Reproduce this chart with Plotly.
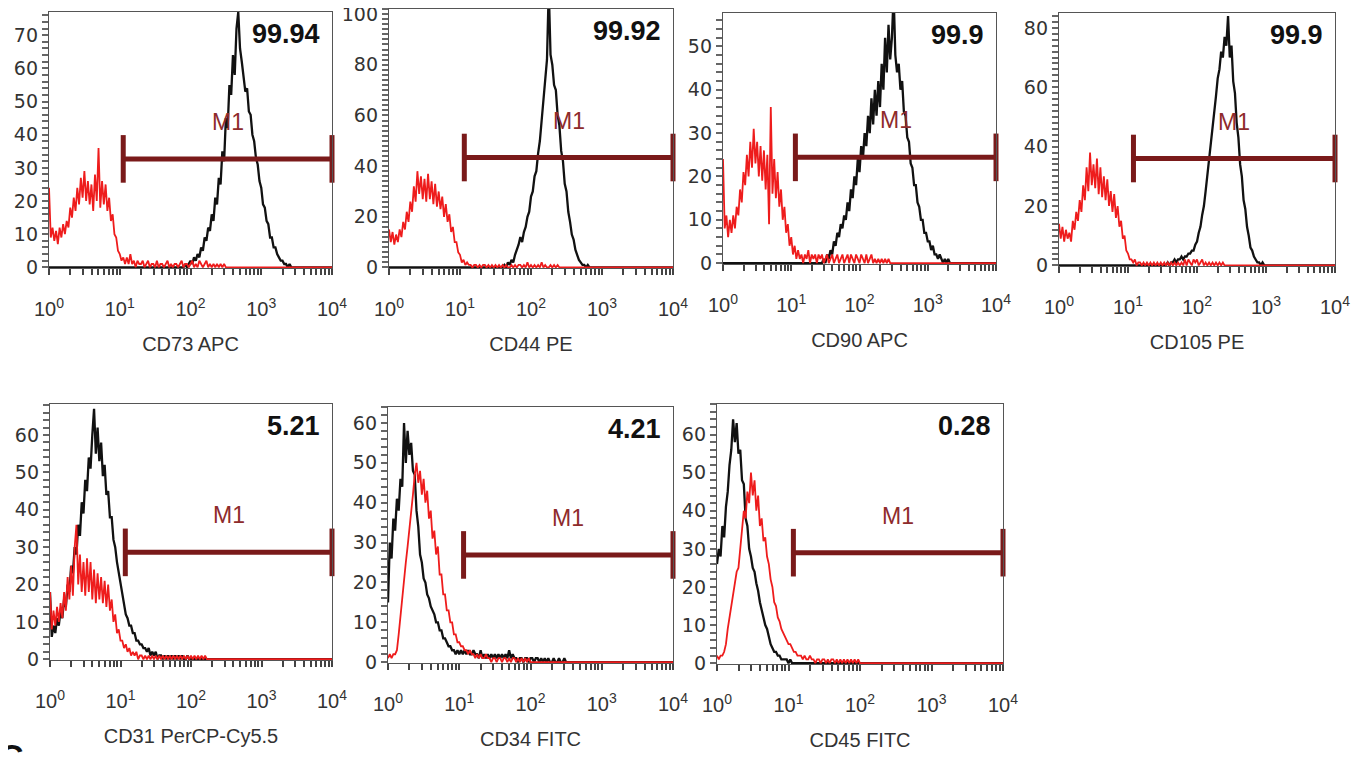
import math
import plotly.graph_objects as go

# ---------------- data ----------------
STEP = 0.025  # spacing of histogram channels in log10 units

PANEL_TITLES = ["CD73 APC", "CD44 PE", "CD90 APC", "CD105 PE",
                "CD31 PerCP-Cy5.5", "CD34 FITC", "CD45 FITC"]
PERCENT_M1 = ["99.94", "99.92", "99.9", "99.9", "5.21", "4.21", "0.28"]
Y_MAX = [77, 102, 57.7, 85, 68.3, 64, 68]
Y_DTICK = [10, 20, 10, 20, 10, 10, 10]
GATE_START = [11.2, 11.5, 11.5, 12.0, 11.7, 11.5, 11.7]
GATE_END = 10000
GATE_LEVEL = [32.7, 43.4, 24.4, 36.0, 28.6, 26.9, 29.0]

X_DECADES = [1, 10, 100, 1000, 10000]
X_DECADE_TEXT = ["10<sup>0</sup>", "10<sup>1</sup>", "10<sup>2</sup>", "10<sup>3</sup>", "10<sup>4</sup>"]

# CD73 APC
cd73_black_start = 1.9
cd73_black = [0, 1, 0, 1, 2, 1, 3, 2, 4, 3, 6, 5, 9, 8, 12, 11, 16, 14, 21, 19, 27, 25, 35, 32, 45, 42,
              55, 52, 64, 58, 72, 77, 66, 62, 58, 53, 54, 47, 46, 40, 38, 33, 31, 26, 24, 19, 18, 14, 13,
              9, 9, 6, 6, 4, 3, 2, 2, 1, 1, 0, 1, 0]
cd73_red_start = 0.0
cd73_red = [24, 9, 12, 8, 11, 7, 12, 9, 13, 10, 14, 12, 18, 15, 21, 17, 24, 19, 27, 21, 29, 20, 26, 19,
            25, 17, 28, 20, 36, 18, 26, 19, 25, 17, 21, 14, 16, 10, 9, 5, 4, 2, 3, 1, 3, 1, 4, 1, 2, 0,
            2, 1, 1, 2, 0, 1, 2, 0, 1, 1, 0, 2, 0, 1, 1, 0, 1, 2, 0, 1, 0, 1, 1, 0, 1, 2, 0, 1, 1, 0,
            1, 2, 0, 1, 0, 2, 1, 0, 1, 2, 0, 1, 0, 1, 0, 1, 0, 1, 0, 1, 0]

# CD44 PE
cd44_black_start = 1.6
cd44_black = [0, 1, 0, 2, 1, 3, 2, 5, 7, 9, 12, 10, 14, 16, 20, 22, 28, 30, 36, 38, 45, 50, 58, 66, 76,
              82, 110, 84, 80, 72, 70, 60, 56, 46, 42, 33, 30, 22, 18, 13, 11, 7, 5, 3, 2, 1, 1, 0, 1,
              0, 0]
cd44_red_start = 0.0
cd44_red = [15, 10, 14, 9, 13, 10, 15, 12, 18, 15, 22, 18, 26, 22, 32, 26, 38, 29, 36, 27, 35, 26, 37,
            27, 34, 25, 33, 24, 30, 23, 28, 20, 25, 18, 21, 14, 16, 10, 10, 6, 5, 2, 3, 1, 2, 1, 1, 0,
            1, 1, 0, 1, 0, 1, 1, 0, 1, 0, 1, 0, 1, 0, 1, 0, 1, 0, 1, 0, 0, 1, 0, 1, 0, 1, 1, 0, 1, 0,
            2, 0, 1, 0, 1, 0, 1, 0, 2, 0, 1, 0, 0, 1, 0, 1, 0, 1, 0]

# CD90 APC
cd90_black_start = 1.45
cd90_black = [0, 1, 0, 2, 1, 3, 2, 5, 4, 7, 6, 9, 8, 11, 10, 14, 12, 17, 15, 20, 18, 24, 21, 27, 24, 30,
              27, 34, 30, 38, 32, 40, 34, 42, 36, 46, 40, 52, 44, 55, 47, 52, 62, 48, 44, 46, 40, 42,
              35, 34, 29, 28, 23, 22, 18, 18, 14, 13, 10, 10, 7, 7, 5, 5, 3, 4, 2, 2, 1, 2, 1, 0, 1, 0,
              1, 0, 0]
cd90_red_start = 0.0
cd90_red = [24, 8, 11, 6, 10, 7, 11, 8, 13, 11, 17, 14, 21, 18, 25, 20, 28, 22, 31, 23, 28, 20, 27, 19,
            26, 17, 25, 9, 36, 16, 24, 15, 21, 13, 17, 10, 13, 7, 9, 4, 6, 2, 4, 1, 3, 1, 2, 0, 2, 1, 3,
            0, 2, 1, 2, 0, 2, 1, 2, 0, 1, 2, 0, 1, 2, 0, 1, 2, 0, 1, 2, 0, 1, 2, 0, 2, 1, 0, 2, 1, 0, 2,
            1, 0, 2, 0, 1, 2, 0, 1, 0, 1, 0, 1, 0, 1, 0, 1, 0]

# CD105 PE
cd105_black_start = 1.55
cd105_black = [0, 1, 0, 1, 1, 2, 1, 2, 2, 3, 2, 3, 3, 4, 4, 5, 5, 7, 8, 11, 13, 17, 20, 25, 30, 35, 40,
               46, 52, 57, 63, 66, 72, 70, 77, 74, 84, 70, 74, 62, 58, 48, 43, 34, 30, 22, 19, 13, 10,
               6, 5, 3, 2, 1, 1, 0, 1, 0, 0]
cd105_red_start = 0.0
cd105_red = [14, 9, 13, 8, 12, 9, 11, 8, 15, 12, 18, 15, 22, 18, 27, 22, 33, 25, 38, 27, 34, 26, 36, 24,
             33, 23, 30, 22, 29, 20, 25, 18, 24, 16, 20, 13, 15, 9, 10, 5, 4, 2, 2, 1, 2, 0, 1, 1, 0,
             1, 0, 1, 0, 1, 0, 1, 0, 1, 0, 1, 0, 1, 0, 1, 0, 1, 0, 1, 0, 1, 0, 1, 0, 2, 0, 2, 1, 0, 2,
             1, 2, 0, 1, 2, 0, 1, 0, 1, 0, 1, 0, 1, 0, 1, 0, 1, 0]

# CD31 PerCP-Cy5.5
cd31_black_start = 0.0
cd31_black = [18, 6, 9, 7, 11, 9, 13, 11, 16, 14, 20, 18, 25, 23, 30, 28, 36, 33, 42, 39, 48, 45, 54,
              51, 60, 67, 55, 62, 53, 58, 49, 52, 44, 45, 38, 38, 32, 30, 26, 23, 20, 17, 15, 12, 11,
              9, 9, 7, 7, 5, 5, 4, 4, 3, 3, 2, 3, 1, 2, 1, 2, 0, 1, 1, 0, 1, 0, 1, 0, 1, 0, 1, 0, 1, 0,
              1, 0, 0, 1, 0, 0]
cd31_red_start = 0.0
cd31_red = [18, 8, 13, 9, 14, 10, 15, 11, 18, 13, 22, 16, 25, 17, 30, 36, 20, 28, 18, 26, 17, 27, 18,
            26, 16, 24, 15, 23, 16, 22, 15, 21, 14, 20, 13, 16, 10, 12, 7, 8, 5, 5, 3, 4, 2, 3, 1, 2,
            1, 2, 0, 1, 1, 0, 1, 0, 1, 0, 1, 0, 1, 0, 1, 0, 1, 0, 1, 0, 1, 0, 1, 0, 1, 0, 1, 0, 1, 0,
            1, 0, 1, 0, 1, 0, 1, 0, 1, 0, 1, 0, 0]

# CD34 FITC
cd34_black_start = 0.0
cd34_black = [15, 30, 26, 36, 33, 41, 38, 46, 44, 60, 50, 58, 52, 55, 48, 47, 38, 34, 27, 25, 21, 20,
              17, 16, 14, 13, 12, 10, 10, 8, 8, 6, 6, 5, 4, 4, 3, 3, 2, 3, 2, 3, 2, 3, 2, 3, 2, 2, 3,
              2, 2, 1, 3, 1, 2, 1, 2, 1, 2, 1, 2, 1, 2, 1, 2, 1, 2, 1, 3, 1, 2, 1, 1, 0, 1, 1, 0, 1, 1,
              0, 1, 1, 0, 1, 1, 0, 1, 0, 1, 0, 1, 0, 0, 1, 0, 0, 1, 0, 0, 1, 0]
cd34_red_start = 0.0
cd34_red = [1, 2, 1, 2, 2, 3, 7, 12, 17, 21, 25, 29, 33, 38, 42, 47, 50, 45, 48, 42, 46, 40, 43, 36,
            38, 31, 33, 27, 29, 22, 22, 17, 17, 13, 13, 10, 10, 7, 7, 5, 5, 4, 4, 3, 3, 2, 3, 2, 2,
            1, 2, 1, 2, 1, 1, 2, 1, 1, 0, 1, 1, 0, 1, 1, 0, 1, 1, 0, 1, 0, 1, 1, 0, 1, 0, 1, 0, 1, 0,
            1, 0]

# CD45 FITC
cd45_black_start = 0.0
cd45_black = [26, 30, 28, 36, 33, 41, 45, 52, 56, 64, 58, 63, 55, 56, 48, 47, 38, 36, 30, 28, 25, 24,
              21, 19, 16, 14, 12, 10, 9, 7, 5, 4, 3, 3, 2, 2, 1, 1, 1, 1, 0, 1, 0]
cd45_red_start = 0.0
cd45_red = [2, 1, 2, 2, 3, 5, 9, 12, 15, 18, 20, 24, 25, 30, 34, 40, 38, 45, 42, 50, 44, 48, 40, 44,
            36, 38, 32, 33, 28, 26, 22, 20, 16, 15, 12, 11, 9, 8, 7, 6, 5, 5, 4, 3, 3, 2, 2, 2, 1, 2,
            1, 1, 2, 1, 1, 0, 1, 1, 0, 1, 1, 0, 1, 0, 1, 1, 0, 1, 0, 1, 0, 1, 0, 1, 0, 1, 0, 1, 0, 1,
            0]

BLACK_SERIES = [(cd73_black_start, cd73_black), (cd44_black_start, cd44_black),
                (cd90_black_start, cd90_black), (cd105_black_start, cd105_black),
                (cd31_black_start, cd31_black), (cd34_black_start, cd34_black),
                (cd45_black_start, cd45_black)]
RED_SERIES = [(cd73_red_start, cd73_red), (cd44_red_start, cd44_red),
              (cd90_red_start, cd90_red), (cd105_red_start, cd105_red),
              (cd31_red_start, cd31_red), (cd34_red_start, cd34_red),
              (cd45_red_start, cd45_red)]

# ---------------- layout (pixel boxes of each plot area, in screenshot pixels) ----------------
W, H = 1364, 758
OFF = 8  # the page body margin shifts the figure by this many pixels
PANEL_BOX = [(49, 332, 12, 268), (389, 673, 9, 268), (723, 996, 13, 264), (1059, 1335, 13, 266),
             (50, 332, 404, 660), (388, 673, 407, 663), (717, 1003, 404, 664)]

BLACK = "#111111"
RED = "#ee1c1c"
GATE = "#7a1a1a"
GATE_TEXT = "#8e2b2b"
FONT = "Liberation Sans, Arial, sans-serif"
WIDE = "DejaVu Sans, Liberation Sans, sans-serif"

# x ticks: every decade labelled, 2..9 within each decade as unlabelled comb ticks
X_TICK_VALS, X_TICK_TEXT = [], []
for d, lab in zip(X_DECADES, X_DECADE_TEXT):
    X_TICK_VALS.append(d)
    X_TICK_TEXT.append(lab)
    if d < 10000:
        for m in range(2, 10):
            X_TICK_VALS.append(m * d)
            X_TICK_TEXT.append("")


def channels(start, vals):
    xs = [10 ** (start + i * STEP) for i in range(len(vals))]
    ys = list(vals)
    if start > 0:
        xs = [1] + xs
        ys = [0] + ys
    xs = xs + [10000]
    ys = ys + [0]
    return xs, ys


fig = go.Figure()
annotations = []
layout = {}

for k in range(7):
    n = "" if k == 0 else str(k + 1)
    xa, ya = "x" + n, "y" + n
    l, r, t, b = [v - OFF for v in PANEL_BOX[k]]

    bx, by = channels(*BLACK_SERIES[k])
    rx, ry = channels(*RED_SERIES[k])
    fig.add_trace(go.Scatter(x=bx, y=by, mode="lines", line=dict(color=BLACK, width=2.3),
                             xaxis=xa, yaxis=ya, showlegend=False, hoverinfo="skip"))
    fig.add_trace(go.Scatter(x=rx, y=ry, mode="lines", line=dict(color=RED, width=1.8),
                             xaxis=xa, yaxis=ya, showlegend=False, hoverinfo="skip"))
    # M1 gate
    fig.add_trace(go.Scatter(x=[GATE_START[k], GATE_END], y=[GATE_LEVEL[k], GATE_LEVEL[k]],
                             mode="lines+markers", line=dict(color=GATE, width=5),
                             marker=dict(symbol="line-ns", size=34, color=GATE,
                                         line=dict(color=GATE, width=5)),
                             xaxis=xa, yaxis=ya, showlegend=False, hoverinfo="skip", cliponaxis=False))

    y_vals = list(range(0, int(Y_MAX[k]) + 1, 2))
    y_text = [str(v) if v % Y_DTICK[k] == 0 else "" for v in y_vals]

    layout["xaxis" + n] = dict(
        domain=[l / W, r / W], anchor=ya, type="log", range=[0, 4], automargin=False,
        tickmode="array", tickvals=X_TICK_VALS, ticktext=X_TICK_TEXT, ticklabeloverflow="allow",
        tickfont=dict(family=FONT, size=20, color="#333"),
        ticks="outside", ticklen=6, tickcolor="#444", tickwidth=1.5, ticklabelstandoff=17,
        showline=True, linecolor="#555", linewidth=1.3, mirror=True,
        showgrid=False, zeroline=False,
        title=dict(text=PANEL_TITLES[k], font=dict(family=FONT, size=20, color="#333"), standoff=17),
    )
    layout["yaxis" + n] = dict(
        domain=[1 - b / H, 1 - t / H], anchor=xa, range=[-0.2, Y_MAX[k]], automargin=False,
        tickmode="array", tickvals=y_vals, ticktext=y_text, ticklabeloverflow="allow",
        tickfont=dict(family=WIDE, size=19, color="#333"),
        ticks="outside", ticklen=6, tickcolor="#666", tickwidth=1.5,
        showline=True, linecolor="#555", linewidth=1.3, mirror=True,
        showgrid=False, zeroline=False,
    )

    annotations.append(dict(text="<b>" + PERCENT_M1[k] + "</b>", xref=xa + " domain", yref=ya + " domain",
                            x=1, y=1, xanchor="right", yanchor="top", xshift=-10, yshift=-5,
                            showarrow=False, font=dict(family=FONT, size=27, color="#111")))
    gate_mid = (math.log10(GATE_START[k]) + math.log10(GATE_END)) / 2
    annotations.append(dict(text="M1", xref=xa, yref=ya, x=gate_mid, y=GATE_LEVEL[k],
                            xanchor="center", yanchor="middle", yshift=37, showarrow=False,
                            font=dict(family=FONT, size=23, color=GATE_TEXT)))

annotations.append(dict(text="<b>C</b>", xref="paper", yref="paper", x=0.0, y=(H - 735 + OFF) / H,
                        xanchor="left", yanchor="top", xshift=-OFF - 3, showarrow=False,
                        font=dict(family=FONT, size=34, color="#111")))

fig.update_layout(width=W, height=H, margin=dict(l=0, r=0, t=0, b=0),
                  paper_bgcolor="white", plot_bgcolor="white",
                  annotations=annotations, **layout)

fig.write_html("out.html")
